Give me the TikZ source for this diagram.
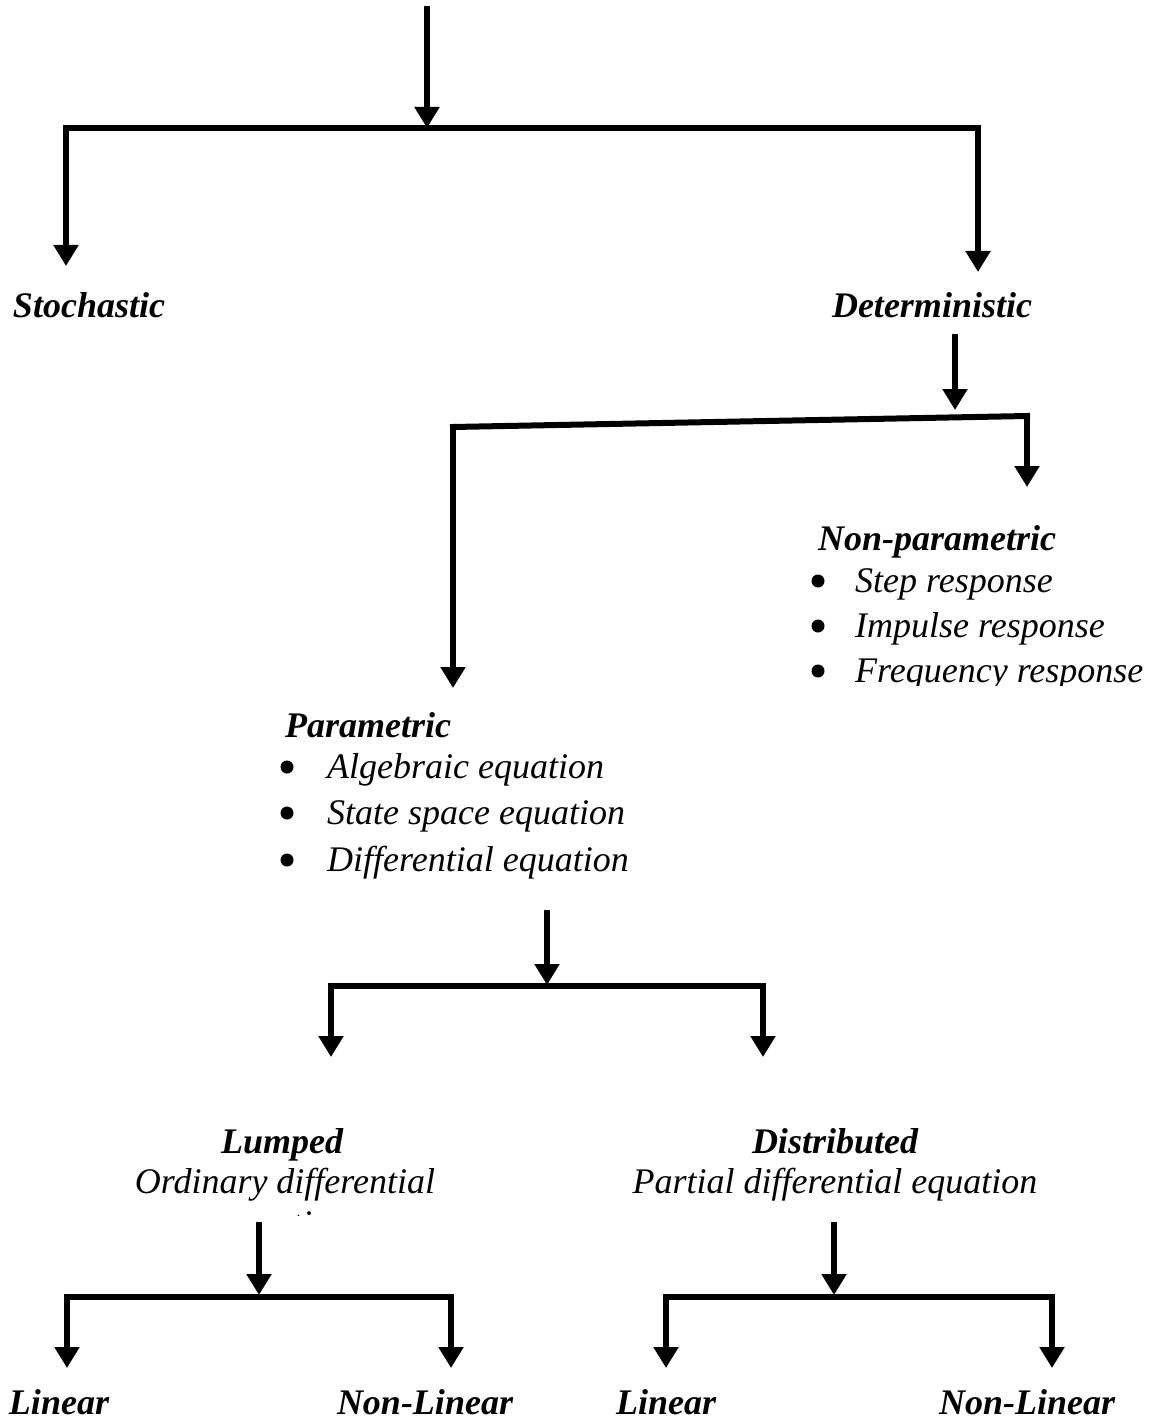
\documentclass[tikz,border=0pt]{standalone}
\usepackage{fontspec}
\setmainfont{Liberation Serif}
\usetikzlibrary{arrows.meta}
\tikzset{
  conn/.style={line width=6pt, line cap=rect, line join=miter},
  arr/.style={conn, -{Triangle[width=24pt,length=21pt]}},
  head/.style={font=\fontsize{36}{43}\selectfont\bfseries\itshape, inner sep=0pt},
  item/.style={font=\fontsize{36}{43}\selectfont\itshape, inner sep=0pt},
  bul/.style={circle, fill=black, inner sep=0pt, minimum size=13pt},
}
\begin{document}
\begin{tikzpicture}[x=1pt,y=-1pt]
\useasboundingbox (0,0) rectangle (1170,1420);
% ---------- level 1
\coordinate (root) at (427,9);
\coordinate (j1) at (427,128);
\coordinate (b1L) at (66,128);
\coordinate (b1R) at (978,128);
\coordinate (t1L) at (66,266);
\coordinate (t1R) at (978,272);
\node[head, anchor=base] (stoch) at (89,317) {Stochastic};
\node[head, anchor=base] (det) at (932,317) {Deterministic};
\draw[conn] (b1L) -- (b1R);
\draw[arr] (root) -- (j1);
\draw[arr] (b1L) -- (t1L);
\draw[arr] (b1R) -- (t1R);
% ---------- level 2
\coordinate (s2) at (955,337);
\coordinate (j2) at (955,410);
\coordinate (b2L) at (453,427);
\coordinate (b2R) at (1027,416);
\coordinate (t2L) at (453,688);
\coordinate (t2R) at (1027,487);
\draw[conn] (b2L) -- (b2R);
\draw[arr] (s2) -- (j2);
\draw[arr] (b2L) -- (t2L);
\draw[arr] (b2R) -- (t2R);
% Non-parametric
\node[head, anchor=base west] (np) at (818,550) {Non-parametric};
\node[bul] (npb1) at (818,581) {};
\node[item, anchor=base west] (np1) at (855,592) {Step response};
\node[bul] (npb2) at (818,626) {};
\node[item, anchor=base west] (np2) at (855,637) {Impulse response};
\begin{scope}
\clip (700,600) rectangle (1170,685);
\node[bul] (npb3) at (818,671) {};
\node[item, anchor=base west] (np3) at (855,682) {Frequency response};
\end{scope}
% Parametric
\node[head, anchor=base west] (par) at (285,737) {Parametric};
\node[bul] (pb1) at (287,767) {};
\node[item, anchor=base west] (p1) at (327,778) {Algebraic equation};
\node[bul] (pb2) at (287,813) {};
\node[item, anchor=base west] (p2) at (327,824) {State space equation};
\begin{scope}
\clip (200,835) rectangle (700,880);
\node[bul] (pb3) at (287,860) {};
\node[item, anchor=base west] (p3) at (327,871) {Differential equation};
\end{scope}
% ---------- level 3
\coordinate (s3) at (547,913);
\coordinate (j3) at (547,985);
\coordinate (b3L) at (331,986);
\coordinate (b3R) at (763,986);
\coordinate (t3L) at (331,1057);
\coordinate (t3R) at (763,1057);
\draw[conn] (b3L) -- (b3R);
\draw[arr] (s3) -- (j3);
\draw[arr] (b3L) -- (t3L);
\draw[arr] (b3R) -- (t3R);
\node[head, anchor=base] (lump) at (282,1153) {Lumped};
\node[item, anchor=base] (ode) at (285,1193) {Ordinary differential};
\begin{scope}
\clip (100,1200) rectangle (480,1215);
\node[item, anchor=base] (ode2) at (285,1235) {equation};
\end{scope}
\node[head, anchor=base] (dist) at (835,1153) {Distributed};
\node[item, anchor=base] (pde) at (835,1193) {Partial differential equation};
% ---------- level 4 (lumped)
\coordinate (s4) at (259,1225);
\coordinate (j4) at (259,1295);
\coordinate (b4L) at (67,1297);
\coordinate (b4R) at (451,1297);
\coordinate (t4L) at (67,1368);
\coordinate (t4R) at (451,1368);
\draw[conn] (b4L) -- (b4R);
\draw[arr] (s4) -- (j4);
\draw[arr] (b4L) -- (t4L);
\draw[arr] (b4R) -- (t4R);
% ---------- level 4 (distributed)
\coordinate (s5) at (834,1225);
\coordinate (j5) at (834,1295);
\coordinate (b5L) at (666,1297);
\coordinate (b5R) at (1052,1297);
\coordinate (t5L) at (666,1368);
\coordinate (t5R) at (1052,1368);
\draw[conn] (b5L) -- (b5R);
\draw[arr] (s5) -- (j5);
\draw[arr] (b5L) -- (t5L);
\draw[arr] (b5R) -- (t5R);
% bottom labels
\node[head, anchor=base] (lin1) at (59,1414) {Linear};
\node[head, anchor=base] (nlin1) at (425,1414) {Non-Linear};
\node[head, anchor=base] (lin2) at (666,1414) {Linear};
\node[head, anchor=base] (nlin2) at (1027,1414) {Non-Linear};
\end{tikzpicture}
\end{document}
